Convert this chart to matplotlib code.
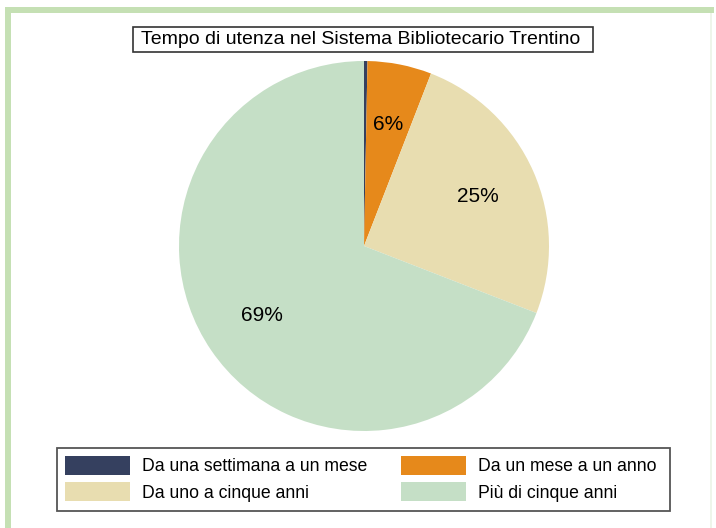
import matplotlib.pyplot as plt
from matplotlib.patches import Rectangle

plt.rcParams['font.family'] = ['Liberation Sans', 'DejaVu Sans']

# Data
TITLE = 'Tempo di utenza nel Sistema Bibliotecario Trentino'
labels = ['Da una settimana a un mese', 'Da un mese a un anno',
          'Da uno a cinque anni', 'Più di cinque anni']
values = [0.3, 5.6, 25.0, 69.1]
colors = ['#35405f', '#e6891b', '#e8ddb0', '#c5dfc6']

W, H = 716, 528
BORDER = '#c5e0b4'


def pct_label(p):
    return '%d%%' % round(p) if p >= 1 else ''


def box(fig, x0, y0, x1, y1, **kw):
    # rectangle given in pixel coords measured from the top-left corner
    r = Rectangle((x0 / W, 1 - y1 / H), (x1 - x0) / W, (y1 - y0) / H,
                  transform=fig.transFigure, **kw)
    fig.patches.append(r)
    return r


def main():
    fig = plt.figure(figsize=(W / 100, H / 100), dpi=100)

    # green frame: thick on top and left, faint on the right
    box(fig, 5, 7, 714, 13, facecolor=BORDER, edgecolor='none')
    box(fig, 5, 7, 11, 528, facecolor=BORDER, edgecolor='none')
    box(fig, 710, 13, 712, 528, facecolor='#eef5ea', edgecolor='none')

    cx, cy, r = 364, 246, 185
    ax = fig.add_axes([(cx - r) / W, (H - cy - r) / H, 2 * r / W, 2 * r / H])
    wedges, texts, autotexts = ax.pie(values, colors=colors, startangle=90,
                                      counterclock=False, autopct=pct_label,
                                      pctdistance=0.67,
                                      wedgeprops=dict(linewidth=0),
                                      textprops=dict(fontsize=15))
    ax.set_xlim(-1, 1)
    ax.set_ylim(-1, 1)
    ax.axis('off')

    # title in a box
    box(fig, 133, 27, 593, 52, facecolor='white', edgecolor='#333333', linewidth=1.2)
    fig.text(361 / W, 1 - 39.5 / H, TITLE, ha='center', va='center', fontsize=14)

    # legend in a box
    box(fig, 57, 448, 670, 511, facecolor='white', edgecolor='#555555', linewidth=1.3)
    order = [0, 2, 1, 3]
    fig.legend([wedges[i] for i in order], [labels[i] for i in order],
               ncol=2, loc='upper left', bbox_to_anchor=(65 / W, 1 - 456 / H),
               fontsize=12.7, handlelength=3.7, handleheight=1.25,
               handletextpad=0.68, columnspacing=1.9, labelspacing=0.4,
               borderpad=0, borderaxespad=0, frameon=False)

    fig.savefig('out.png', dpi=100)


if __name__ == '__main__':
    main()
